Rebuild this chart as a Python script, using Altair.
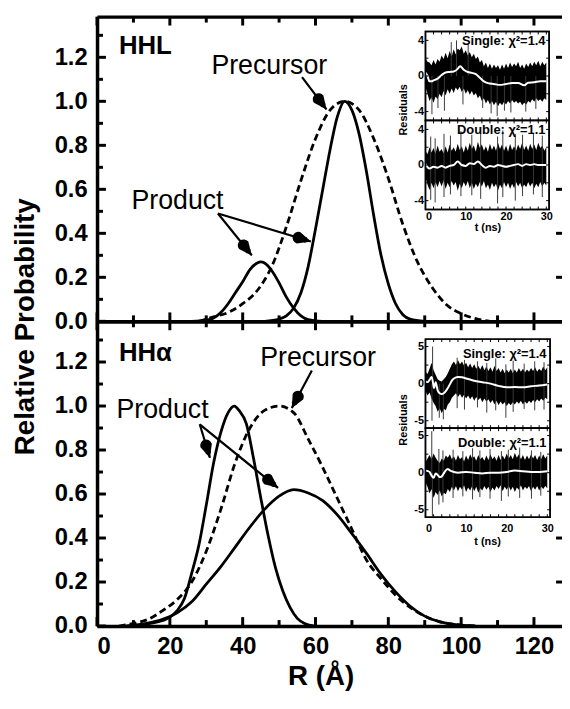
import math
import altair as alt
import pandas as pd

FONT = "Liberation Sans"

# ---------------- main panels: R (Å) vs relative probability ----------------
hhl_prec_r = [28, 32, 36, 40, 44, 48, 52, 56, 60, 64, 68, 72, 76, 80, 84, 88, 92, 96, 100, 104, 108]
hhl_prec_p = [0.0, 0.02, 0.04, 0.08, 0.14, 0.25, 0.43, 0.64, 0.83, 0.96, 1.0, 0.96, 0.83, 0.65, 0.44, 0.27, 0.155, 0.075, 0.035, 0.012, 0.0]
hhl_prodA_r = [46, 50, 52, 54, 56, 58, 60, 62, 64, 66, 68, 70, 72, 74, 76, 78, 80, 82, 84, 86, 90]
hhl_prodA_p = [0.0, 0.01, 0.025, 0.06, 0.13, 0.25, 0.42, 0.6, 0.78, 0.93, 1.0, 0.96, 0.85, 0.68, 0.48, 0.3, 0.17, 0.08, 0.03, 0.01, 0.0]
hhl_prodB_r = [26, 30, 32, 34, 36, 38, 40, 42, 44, 45, 46, 48, 50, 52, 54, 56, 58, 62]
hhl_prodB_p = [0.0, 0.005, 0.015, 0.04, 0.08, 0.13, 0.18, 0.235, 0.265, 0.27, 0.265, 0.23, 0.175, 0.11, 0.06, 0.025, 0.008, 0.0]

hha_prec_r = [6, 10, 14, 18, 22, 26, 30, 34, 38, 42, 46, 50, 54, 58, 62, 66, 70, 74, 78, 82, 86, 90, 94, 98, 104]
hha_prec_p = [0.0, 0.012, 0.03, 0.07, 0.12, 0.2, 0.34, 0.53, 0.745, 0.9, 0.98, 1.0, 0.97, 0.85, 0.72, 0.58, 0.44, 0.30, 0.215, 0.14, 0.085, 0.045, 0.02, 0.008, 0.0]
hha_prodA_r = [8, 14, 18, 20, 22, 24, 26, 28, 30, 32, 34, 36, 37.7, 39, 41, 43, 45, 47, 49, 51, 53, 55, 57, 60]
hha_prodA_p = [0.0, 0.01, 0.025, 0.04, 0.07, 0.125, 0.24, 0.37, 0.55, 0.74, 0.88, 0.97, 1.0, 0.98, 0.92, 0.76, 0.58, 0.41, 0.265, 0.16, 0.085, 0.035, 0.012, 0.0]
hha_prodB_r = [8, 14, 18, 22, 26, 30, 34, 38, 42, 46, 50, 54, 58, 62, 66, 70, 74, 78, 82, 86, 90, 94, 98, 104]
hha_prodB_p = [0.0, 0.013, 0.03, 0.06, 0.11, 0.19, 0.27, 0.36, 0.45, 0.53, 0.59, 0.62, 0.605, 0.57, 0.505, 0.42, 0.33, 0.235, 0.155, 0.09, 0.045, 0.02, 0.007, 0.0]

# annotation arrows (start R, start P, tip R, tip P)
hhl_arrows = [(56.3, 1.11, 63.0, 0.963), (33.2, 0.49, 42.5, 0.30), (33.2, 0.49, 58.7, 0.363)]
hha_arrows = [(59.0, 1.161, 53.5, 0.991), (28.2, 0.917, 31.0, 0.765), (28.2, 0.917, 49.7, 0.628)]

# ---------------- insets: residuals vs t (ns) ----------------
t_grid = [i * 0.5 for i in range(61)]

hhl_s_wt = [0, 0.5, 1, 1.5, 2, 3, 4, 5, 6, 7, 8, 8.6, 9.5, 10.5, 11.5, 12.5, 13.5, 14.5, 15.5, 17, 18.5, 20, 21.5, 23, 24.5, 25.5, 27, 28.5, 30]
hhl_s_wy = [0.4, 0.0, -0.6, -0.6, -0.5, -0.3, 0.1, 0.4, 0.45, 0.5, 0.8, 1.1, 0.7, 0.45, 0.35, 0.2, -0.2, -0.6, -0.8, -0.9, -1.0, -0.9, -0.8, -0.8, -1.05, -0.75, -0.7, -0.6, -0.6]
hhl_s_hi = [2.0, 1.6, 1.5, 1.2, 1.8, 1.3, 1.9, 1.6, 2.3, 1.9,
            2.6, 2.0, 2.8, 2.2, 3.0, 2.4, 3.1, 2.9, 3.3, 2.5,
            2.9, 2.3, 2.7, 2.1, 2.5, 1.9, 2.2, 1.5, 1.8, 1.1,
            1.5, 0.9, 1.4, 0.8, 1.3, 0.9, 1.2, 0.7, 1.3, 0.8,
            1.4, 0.9, 1.5, 1.0, 1.4, 1.1, 1.6, 0.9, 1.3, 0.8,
            1.4, 1.0, 1.5, 1.1, 1.6, 1.2, 1.7, 1.1, 1.6, 1.2,
            1.5]
hhl_s_lo = [-1.2, -2.0, -2.8, -2.4, -3.0, -2.3, -2.6, -2.0, -2.4, -1.7,
            -2.2, -1.5, -2.0, -1.4, -1.9, -1.3, -1.6, -1.2, -1.8, -1.4,
            -2.0, -1.6, -2.1, -1.7, -2.2, -1.9, -2.5, -2.2, -2.8, -2.5,
            -3.1, -2.7, -3.2, -2.8, -3.3, -2.9, -3.4, -3.0, -3.3, -2.9,
            -3.2, -2.8, -3.1, -2.7, -3.0, -2.8, -3.1, -2.9, -3.3, -3.0,
            -3.2, -2.8, -3.0, -2.6, -2.9, -2.5, -2.8, -2.6, -2.9, -2.5,
            -2.7]
hhl_s_spk_t = [1.6, 3.1, 4.7, 6.4, 7.7, 9.3, 10.6, 14.2, 16.3, 17.8, 19.6, 21.2, 24.9, 27.4]
hhl_s_spk_lo = [-4.3, -3.6, -3.9, 0.0, 0.0, -3.2, 0.0, -3.6, -4.2, -4.5, -3.9, -4.1, -4.0, -3.7]
hhl_s_spk_hi = [0.0, 0.0, 0.0, 3.8, 4.0, 0.0, 3.7, 0.0, 0.0, 0.0, 0.0, 0.0, 0.0, 0.0]

hhl_d_wt = list(range(31))
hhl_d_wy = [0.1, -0.4, -0.2, -0.3, -0.1, -0.3, -0.1, 0.0, 0.4, 0.0, -0.1, 0.2, 0.1, 0.4, 0.0, -0.3, -0.1, -0.2, 0.0, -0.1, -0.2, -0.1, 0.0, 0.1, -0.1, 0.1, 0.0, 0.1, 0.0, 0.0, 0.0]
hhl_d_hi = [1.6, 1.2, 2.0, 1.4, 1.9, 1.3, 2.2, 1.5, 1.8, 1.3,
            2.1, 1.4, 2.3, 1.6, 2.0, 1.5, 2.4, 1.7, 2.1, 1.4,
            2.2, 1.6, 2.5, 1.8, 2.2, 1.5, 2.6, 1.9, 2.3, 1.6,
            2.1, 1.5, 2.4, 1.7, 2.2, 1.6, 2.5, 1.8, 2.3, 1.6,
            2.2, 1.5, 2.4, 1.7, 2.1, 1.6, 2.3, 1.8, 2.5, 1.7,
            2.2, 1.6, 2.4, 1.8, 2.3, 1.7, 2.5, 1.9, 2.2, 1.6,
            2.0]
hhl_d_lo = [-1.4, -2.2, -2.8, -2.0, -2.6, -1.9, -2.5, -1.8, -2.4, -1.7,
            -2.7, -2.0, -2.5, -1.8, -2.3, -1.9, -2.9, -2.1, -2.6, -1.9,
            -2.4, -1.8, -2.6, -2.0, -2.7, -2.1, -2.5, -1.9, -2.4, -1.8,
            -2.6, -2.2, -2.8, -2.0, -2.5, -2.1, -2.9, -2.2, -2.6, -1.9,
            -2.5, -2.0, -2.7, -2.1, -2.6, -1.9, -2.4, -2.0, -2.6, -2.2,
            -2.5, -1.9, -2.4, -2.0, -2.6, -2.1, -2.5, -1.9, -2.4, -2.0,
            -2.3]
hhl_d_spk_t = [1.3, 2.4, 4.6, 6.2, 8.8, 11.5, 13.7, 17.9, 19.2, 22.3, 24.1, 26.8, 29.0]
hhl_d_spk_lo = [-3.9, -4.2, -3.6, -3.3, -3.5, -3.4, -3.8, -4.3, -3.6, -4.0, -3.5, -3.3, -3.6]
hhl_d_spk_hi = [3.2, 3.0, 3.5, 3.3, 3.8, 3.4, 3.6, 3.2, 3.9, 3.5, 3.4, 3.6, 3.3]

hha_s_wt = [0, 0.5, 1, 1.5, 1.8, 2.1, 2.5, 3, 3.5, 4, 4.5, 5, 5.5, 6, 6.5, 7, 8, 9, 10, 11, 12, 14, 16, 18, 20, 22, 24, 26, 28, 30]
hha_s_wy = [0.3, 0.2, 0.5, 0.9, 0.3, -0.6, 0.2, -0.9, -1.3, -1.4, -1.3, -1.0, -0.6, -0.1, 0.4, 0.7, 0.9, 0.85, 0.7, 0.55, 0.4, 0.2, 0.0, -0.3, -0.5, -0.45, -0.5, -0.35, -0.25, -0.1]
hha_s_hi = [1.6, 1.3, 2.0, 2.8, 1.8, 1.2, 0.6, 0.4, 0.3, 0.6,
            0.9, 1.4, 2.0, 2.6, 3.0, 2.5, 3.2, 2.6, 3.0, 2.4,
            2.8, 2.2, 2.7, 2.1, 2.6, 2.0, 2.4, 1.9, 2.5, 1.8,
            2.3, 1.7, 2.2, 1.6, 2.4, 1.7, 2.1, 1.5, 2.0, 1.4,
            1.9, 1.5, 2.0, 1.4, 1.9, 1.5, 2.1, 1.6, 2.0, 1.5,
            1.9, 1.6, 2.1, 1.7, 2.2, 1.6, 2.0, 1.7, 2.3, 1.8,
            2.2]
hha_s_lo = [-1.0, -1.6, -1.2, -2.0, -2.6, -3.0, -3.8, -3.3, -4.0, -3.4,
            -3.6, -2.8, -2.5, -1.9, -1.6, -1.3, -1.8, -1.4, -1.9, -1.5,
            -2.0, -1.6, -2.1, -1.7, -2.3, -1.8, -2.2, -1.9, -2.5, -2.0,
            -2.4, -2.1, -2.6, -2.2, -2.8, -2.3, -2.9, -2.4, -2.8, -2.5,
            -3.0, -2.6, -2.9, -2.5, -2.8, -2.4, -2.7, -2.3, -2.8, -2.4,
            -2.7, -2.3, -2.6, -2.2, -2.5, -2.1, -2.4, -2.0, -2.3, -1.9,
            -2.1]
hha_s_spk_t = [1.6, 1.75, 3.4, 4.4, 7.8, 9.6, 12.8, 15.1, 17.3, 19.8, 21.6, 24.3, 26.9, 29.2]
hha_s_spk_lo = [-5.0, 0.0, -4.6, -4.8, -3.3, -3.5, -3.2, -3.9, -3.6, -4.6, -3.8, -3.4, -3.6, -3.5]
hha_s_spk_hi = [0.0, 5.0, 0.0, 0.0, 3.5, 3.2, 3.0, 2.8, 3.4, 2.6, 3.1, 2.7, 3.0, 2.9]

hha_d_wt = [0, 1, 1.5, 2, 2.5, 3, 3.5, 4, 4.5, 5, 5.5, 6, 7, 8, 10, 12, 14, 16, 18, 20, 22, 24, 26, 28, 30]
hha_d_wy = [0.3, 0.1, -0.4, -0.7, -0.1, -0.3, -0.6, -0.5, -0.1, 0.3, 0.5, 0.3, 0.1, 0.0, 0.1, 0.0, -0.1, 0.0, 0.0, 0.1, 0.3, 0.2, 0.1, 0.1, 0.2]
hha_d_hi = [1.4, 1.9, 2.4, 1.8, 2.6, 2.0, 1.6, 1.3, 1.9, 1.6,
            2.3, 2.0, 2.5, 1.8, 2.2, 1.6, 2.4, 1.8, 2.1, 1.5,
            2.3, 1.7, 2.5, 1.9, 2.2, 1.6, 2.4, 1.8, 2.1, 1.6,
            2.3, 1.7, 2.5, 1.8, 2.2, 1.6, 2.4, 1.7, 2.3, 1.8,
            2.6, 1.9, 2.4, 1.8, 2.7, 2.0, 2.5, 1.8, 2.4, 1.7,
            2.3, 1.8, 2.5, 1.9, 2.4, 1.7, 2.3, 1.8, 2.5, 1.9,
            2.3]
hha_d_lo = [-1.3, -1.9, -2.8, -2.2, -3.4, -2.6, -3.0, -2.4, -3.2, -2.7,
            -2.9, -2.2, -2.6, -1.9, -2.4, -1.8, -2.5, -1.9, -2.3, -1.7,
            -2.6, -2.0, -2.4, -1.8, -2.5, -1.9, -2.7, -2.1, -2.4, -1.8,
            -2.3, -1.9, -2.6, -2.0, -2.4, -1.8, -2.2, -1.7, -2.5, -1.9,
            -2.3, -1.8, -2.4, -1.9, -2.6, -2.0, -2.3, -1.7, -2.4, -1.9,
            -2.2, -1.8, -2.5, -1.9, -2.3, -1.8, -2.4, -1.9, -2.2, -1.8,
            -2.1]
hha_d_spk_t = [1.55, 1.7, 3.3, 4.3, 6.8, 9.2, 11.6, 13.4, 15.9, 18.7, 20.4, 23.2, 26.1, 28.4]
hha_d_spk_lo = [0.0, -5.9, -4.3, -4.0, -3.4, -3.2, -3.6, -3.3, -3.5, -3.8, -3.2, -3.4, -3.5, -3.1]
hha_d_spk_hi = [5.6, 0.0, 3.2, 3.0, 3.1, 2.9, 3.3, 3.0, 3.2, 2.9, 3.1, 3.4, 3.0, 2.8]

# ---------------- layout constants ----------------
W = 470            # plot width (px)
PH = 308           # one panel height (px)
HT = 2 * PH        # both panels
XD = [0, 127.7]
YD = [0, 1.385]
X_MAJ = [0, 20, 40, 60, 80, 100, 120]
X_MIN = [10, 30, 50, 70, 90, 110]
Y_MAJ = [0, 0.2, 0.4, 0.6, 0.8, 1.0, 1.2]
Y_MIN = [0.1, 0.3, 0.5, 0.7, 0.9, 1.1, 1.3]
TD = [0, 30.7]
T_TICKS = list(range(0, 31, 2))
ONE = pd.DataFrame({"k": [0]})


def ax(orient, values, offset=0, domain=False, labels=False, **kw):
    kw.setdefault("title", None)
    return alt.Axis(orient=orient, values=values, ticks=False, tickSize=0,
                    domain=domain, domainWidth=3.5, domainColor="black", labels=labels,
                    grid=False, offset=offset, zindex=1, **kw)


def vticks(values, xs, ys, y_from, y_to, width):
    """vertical tick segments at x = values (same encoding pattern as the residual spikes)"""
    df = pd.DataFrame({"t": values, "lo": [y_from] * len(values), "hi": [y_to] * len(values)})

    def mk(xa, ya):
        return alt.Chart(df).mark_rule(color="black", strokeWidth=width).encode(
            x=alt.X("t:Q", scale=xs, axis=xa), y=alt.Y("lo:Q", scale=ys, axis=ya), y2="hi:Q")
    return mk


def hticks(values, xs, ys, x_from, x_to, width):
    """horizontal tick segments at y = values"""
    df = pd.DataFrame({"v": values, "lo": [x_from] * len(values), "hi": [x_to] * len(values)})

    def mk(xa, ya):
        return alt.Chart(df).mark_rule(color="black", strokeWidth=width).encode(
            y=alt.Y("v:Q", scale=ys, axis=ya), x=alt.X("lo:Q", scale=xs, axis=xa), x2="hi:Q")
    return mk


def build(makers, xaxes, yaxes):
    assert len(makers) >= len(xaxes) and len(makers) >= len(yaxes)
    out = []
    for i, mk in enumerate(makers):
        xa = xaxes[i] if i < len(xaxes) else None
        ya = yaxes[i] if i < len(yaxes) else None
        out.append(mk(xa, ya))
    return out


def label_expr(shown):
    parts = []
    for v in shown:
        txt = ("-" if v < 0 else "") + str(abs(v))
        parts.append("datum.value === %s ? '%s'" % (repr(v), txt))
    return " : ".join(parts) + " : ''"


def main_panel(idx, prec, pA, pB, name, name_y, prec_pos, prod_pos, arr):
    y0, y1 = idx * PH, (idx + 1) * PH
    xs = alt.Scale(domain=XD, range=[0, W], nice=False, zero=False)
    ys = alt.Scale(domain=YD, range=[y1, y0], nice=False, zero=False)
    sx = W / (XD[1] - XD[0])
    sy = PH / (YD[1] - YD[0])

    def curve(r, p, dashed=False):
        def mk(xa, ya):
            kw = dict(color="black", strokeWidth=2.8, interpolate="monotone")
            if dashed:
                kw["strokeDash"] = [7, 4]
            return alt.Chart(pd.DataFrame({"r": r, "p": p})).mark_line(**kw).encode(
                x=alt.X("r:Q", scale=xs, axis=xa), y=alt.Y("p:Q", scale=ys, axis=ya))
        return mk

    def note(text, x, y, size, bold, align="center"):
        def mk(xa, ya):
            return alt.Chart(ONE).mark_text(text=text, font=FONT, fontSize=size,
                                            fontWeight="bold" if bold else "normal",
                                            align=align, baseline="alphabetic", color="black").encode(
                x=alt.X(datum=x, type="quantitative", scale=xs, axis=xa),
                y=alt.Y(datum=y, type="quantitative", scale=ys, axis=ya))
        return mk

    def rules(xa, ya):
        df = pd.DataFrame(arr, columns=["x0", "y0", "x1", "y1"])
        return alt.Chart(df).mark_rule(color="black", strokeWidth=2.2).encode(
            x=alt.X("x0:Q", scale=xs, axis=xa), y=alt.Y("y0:Q", scale=ys, axis=ya),
            x2="x1:Q", y2="y1:Q")

    def heads(xa, ya):
        # tapered trails = arrowheads: 13 px behind the tip they are 12 px wide
        rows = []
        for i, (x0, y0_, x1, y1_) in enumerate(arr):
            dxs, dys = (x1 - x0) * sx, -(y1_ - y0_) * sy
            n = math.hypot(dxs, dys)
            ux, uy = dxs / n, dys / n
            rows.append({"id": i, "o": 0, "hx": x1 - 13 * ux / sx, "hy": y1_ + 13 * uy / sy, "w": 12})
            rows.append({"id": i, "o": 1, "hx": x1 - 6.5 * ux / sx, "hy": y1_ + 6.5 * uy / sy, "w": 6})
            rows.append({"id": i, "o": 2, "hx": x1, "hy": y1_, "w": 0.5})
        return alt.Chart(pd.DataFrame(rows)).mark_trail(color="black").encode(
            x=alt.X("hx:Q", scale=xs, axis=xa), y=alt.Y("hy:Q", scale=ys, axis=ya),
            size=alt.Size("w:Q", scale=None), detail="id:N", order="o:Q")

    dy9, dy6 = 9 / sy, 6 / sy
    dx9, dx6 = 9 / sx, 6 / sx
    makers = [curve(prec[0], prec[1], True), curve(pA[0], pA[1]), curve(pB[0], pB[1]),
              note(name, 6, name_y, 26, True, "left"),
              note("Precursor", prec_pos[0], prec_pos[1], 27, False),
              note("Product", prod_pos[0], prod_pos[1], 27, False),
              rules, heads]
    ticks = [vticks(X_MAJ, xs, ys, YD[1], YD[1] - dy9, 3),
             vticks(X_MIN, xs, ys, YD[1], YD[1] - dy6, 3),
             vticks(X_MAJ, xs, ys, YD[0], YD[0] + dy9, 3),
             vticks(X_MIN, xs, ys, YD[0], YD[0] + dy6, 3),
             hticks(Y_MAJ, xs, ys, XD[0], XD[0] + dx9, 3),
             hticks(Y_MIN, xs, ys, XD[0], XD[0] + dx6, 3),
             hticks(Y_MAJ[1:], xs, ys, XD[1] - dx6, XD[1], 3)]

    xaxes = [
        ax("bottom", X_MAJ, offset=y0 - HT, domain=True),   # frame line at panel top
        ax("top", X_MAJ, offset=-y1, domain=True),          # frame line at panel bottom
    ]
    if idx == 1:
        xaxes.append(ax("bottom", X_MAJ, offset=0, labels=True, format="d",
                        labelFontSize=24, labelPadding=9,
                        title="R (\u00c5)", titleX=226, titleY=59, titleAlign="center",
                        titleBaseline="alphabetic", titleFontSize=28, titleFontWeight="bold"))
    if idx == 0:
        ylab = ax("left", Y_MAJ, domain=True, labels=True, format=".1f", labelFontSize=24,
                  labelPadding=10, title="Relative Probability", titleX=-64, titleY=PH + 5,
                  titleAngle=270, titleAlign="center", titleBaseline="alphabetic",
                  titleFontSize=28, titleFontWeight="bold")
    else:
        ylab = ax("left", Y_MAJ, domain=True, labels=True, format=".1f", labelFontSize=24,
                  labelPadding=10)
    return build(makers, xaxes, [ylab]), build(ticks, [], [])


def inset_sub(wt, wy, hi, lo, spt, splo, sphi, ydom, yr, xr, ytk, ylabs,
              label, label_y, bottom_labels, xlab_pad, extra):
    xs = alt.Scale(domain=TD, range=xr, nice=False, zero=False)
    ys = alt.Scale(domain=ydom, range=yr, nice=False, zero=False)
    tsx = (xr[1] - xr[0]) / (TD[1] - TD[0])
    tsy = (yr[0] - yr[1]) / (ydom[1] - ydom[0])

    def frame(xa, ya):
        return alt.Chart(ONE).mark_rect(fill="white", stroke="black", strokeWidth=1.5).encode(
            x=alt.X(datum=TD[0], type="quantitative", scale=xs, axis=xa), x2=alt.X2(datum=TD[1]),
            y=alt.Y(datum=ydom[0], type="quantitative", scale=ys, axis=ya), y2=alt.Y2(datum=ydom[1]))

    def band(xa, ya):
        df = pd.DataFrame({"t": t_grid, "hi": hi, "lo": lo})
        return alt.Chart(df).mark_area(color="black", interpolate="linear", opacity=1).encode(
            x=alt.X("t:Q", scale=xs, axis=xa), y=alt.Y("lo:Q", scale=ys, axis=ya), y2="hi:Q")

    def spikes(xa, ya):
        df = pd.DataFrame({"t": spt, "lo": splo, "hi": sphi})
        return alt.Chart(df).mark_rule(color="#3a3a3a", strokeWidth=1).encode(
            x=alt.X("t:Q", scale=xs, axis=xa), y=alt.Y("lo:Q", scale=ys, axis=ya), y2="hi:Q")

    def white(xa, ya):
        df = pd.DataFrame({"t": wt, "v": wy})
        return alt.Chart(df).mark_line(color="white", strokeWidth=2, interpolate="monotone").encode(
            x=alt.X("t:Q", scale=xs, axis=xa), y=alt.Y("v:Q", scale=ys, axis=ya))

    def border(xa, ya):
        return alt.Chart(ONE).mark_rect(fillOpacity=0, stroke="black", strokeWidth=1.5).encode(
            x=alt.X(datum=TD[0], type="quantitative", scale=xs, axis=xa), x2=alt.X2(datum=TD[1]),
            y=alt.Y(datum=ydom[0], type="quantitative", scale=ys, axis=ya), y2=alt.Y2(datum=ydom[1]))

    def text(s, tx, ty, size, align, baseline, ang=0):
        def mk(xa, ya):
            kw = dict(text=s, font=FONT, fontSize=size, fontWeight="bold", align=align,
                      baseline=baseline, color="black")
            if ang:
                kw["angle"] = ang
            return alt.Chart(ONE).mark_text(**kw).encode(
                x=alt.X(datum=tx, type="quantitative", scale=xs, axis=xa),
                y=alt.Y(datum=ty, type="quantitative", scale=ys, axis=ya))
        return mk

    makers = [frame, band, spikes, white, border,
              vticks(T_TICKS, xs, ys, ydom[1], ydom[1] - 3 / tsy, 1),
              vticks(T_TICKS, xs, ys, ydom[0], ydom[0] + 3 / tsy, 1),
              hticks(ytk, xs, ys, TD[0], TD[0] + 3 / tsx, 1),
              hticks(ytk, xs, ys, TD[1] - 3 / tsx, TD[1], 1),
              text(label, 29.8, label_y, 13, "right", "alphabetic")]
    for (s, tx, ty, ang) in extra:
        makers.append(text(s, tx, ty, 11, "center", "middle", ang))

    xaxes = []
    if bottom_labels:
        xaxes.append(ax("bottom", [0, 10, 20, 30], offset=yr[0] - HT, labels=True,
                        labelExpr=label_expr([0, 10, 20, 30]), labelFontSize=11,
                        labelPadding=xlab_pad))
    yaxes = [ax("left", ytk, offset=-xr[0], labels=True, labelExpr=label_expr(ylabs),
                labelFontSize=11, labelPadding=2)]
    return build(makers, xaxes, yaxes)


layers, tick_layers = [], []
a, b = main_panel(0, (hhl_prec_r, hhl_prec_p), (hhl_prodA_r, hhl_prodA_p), (hhl_prodB_r, hhl_prodB_p),
                  "HHL", 1.213, (47.3, 1.124), (22.1, 0.511), hhl_arrows)
layers += a
tick_layers += b
a, b = main_panel(1, (hha_prec_r, hha_prec_p), (hha_prodA_r, hha_prodA_p), (hha_prodB_r, hha_prodB_p),
                  "HH\u03b1", 1.204, (60.7, 1.18), (18.0, 0.947), hha_arrows)
layers += a
tick_layers += b

xr_top = [332, 457]
layers += inset_sub(hhl_s_wt, hhl_s_wy, hhl_s_hi, hhl_s_lo, hhl_s_spk_t, hhl_s_spk_lo, hhl_s_spk_hi,
                    [-5, 5], [105, 15], xr_top, [-4, -2, 0, 2, 4], [-4, 0, 4],
                    "Single: \u03c7\u00b2=1.4", 3.5, False, 0, [("Residuals", -5.4, -3.8, 270)])
layers += inset_sub(hhl_d_wt, hhl_d_wy, hhl_d_hi, hhl_d_lo, hhl_d_spk_t, hhl_d_spk_lo, hhl_d_spk_hi,
                    [-5, 5], [195, 105], xr_top, [-4, -2, 0, 2, 4], [-4, 0, 4],
                    "Double: \u03c7\u00b2=1.1", 3.5, True, 1, [("t (ns)", 15.5, -7.07, 0)])
xr_bot = [332, 458]
yb0 = PH + 18
layers += inset_sub(hha_s_wt, hha_s_wy, hha_s_hi, hha_s_lo, hha_s_spk_t, hha_s_spk_lo, hha_s_spk_hi,
                    [-6, 6], [yb0 + 90, yb0], xr_bot, [-5, -2.5, 0, 2.5, 5], [-5, 0, 5],
                    "Single: \u03c7\u00b2=1.4", 3.5, False, 0, [("Residuals", -5.4, -4.9, 270)])
layers += inset_sub(hha_d_wt, hha_d_wy, hha_d_hi, hha_d_lo, hha_d_spk_t, hha_d_spk_lo, hha_d_spk_hi,
                    [-6, 6], [yb0 + 180, yb0 + 90], xr_bot, [-5, -2.5, 0, 2.5, 5], [-5, 0, 5],
                    "Double: \u03c7\u00b2=1.1", 3.5, True, 5, [("t (ns)", 15.3, -9.37, 0)])
layers += tick_layers

chart = alt.layer(*layers).resolve_scale(x="independent", y="independent").resolve_axis(
    x="independent", y="independent"
).properties(
    width=W, height=HT,
    autosize=alt.AutoSizeParams(type="none"),
    padding={"left": 90, "top": 5, "right": 0, "bottom": 65},
).configure_view(stroke="transparent").configure_axis(
    labelFont=FONT, titleFont=FONT, labelColor="black", titleColor="black", labelFontWeight="bold"
)

chart.save("out.html", embed_options={"renderer": "svg", "actions": False})
